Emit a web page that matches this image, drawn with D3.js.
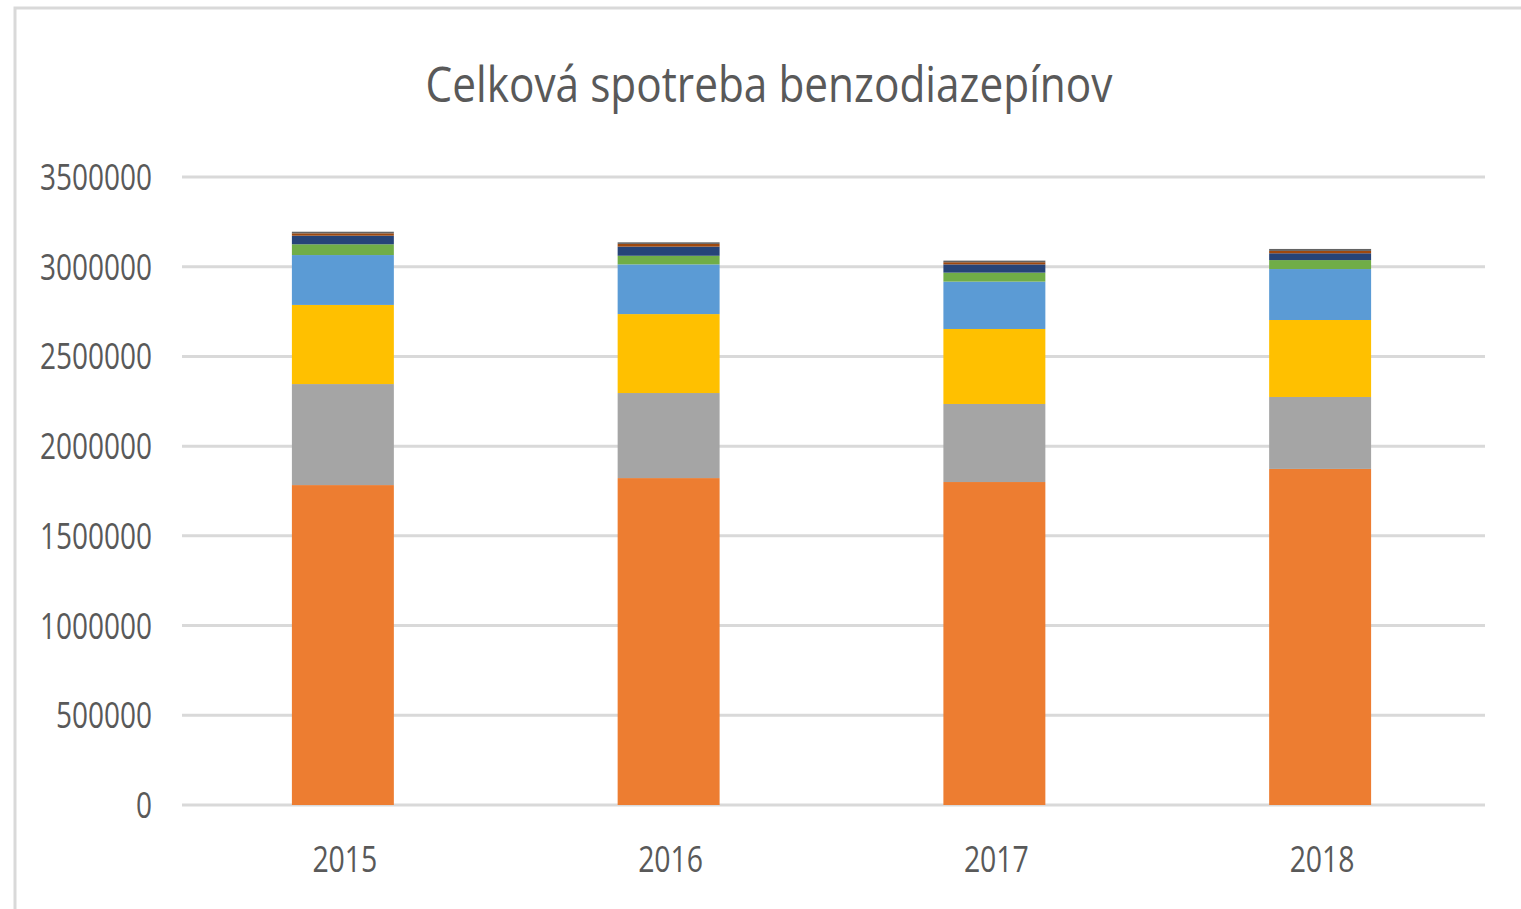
<!DOCTYPE html>
<html lang="sk">
<head>
<meta charset="utf-8">
<title>Celková spotreba benzodiazepínov</title>
<script src="https://cdn.jsdelivr.net/npm/d3@7"></script>
<style>
    body {
        margin: 0;
        background: #fff;
        font-family: "Open Sans", "Liberation Sans", sans-serif;
    }
    svg { display: block; }
</style>
</head>
<body>
<script>

// data
var years = ["2015", "2016", "2017", "2018"];
var seriesKeys = ["s1", "s2", "s3", "s4", "s5", "s6", "s7", "s8"];
var seriesColors = ["#ED7D31", "#A5A5A5", "#FFC000", "#5B9BD5", "#70AD47", "#264478", "#9E480E", "#636363"];
var s1 = [1783000, 1822000, 1800000, 1873000];
var s2 = [563000, 474000, 435000, 401000];
var s3 = [441000, 440000, 418000, 429000];
var s4 = [278000, 277000, 264000, 284000];
var s5 = [60000, 48000, 50000, 50000];
var s6 = [48000, 51000, 46000, 38000];
var s7 = [13000, 15000, 12000, 13000];
var s8 = [9000, 9000, 9000, 11000];
var yTicks = [0, 500000, 1000000, 1500000, 2000000, 2500000, 3000000, 3500000];

var allSeries = [s1, s2, s3, s4, s5, s6, s7, s8];
var rows = years.map(function(y, i) {
    var r = {year: y};
    seriesKeys.forEach(function(k, j) { r[k] = allSeries[j][i]; });
    return r;
});

var width = 1521, height = 909;
var margin = {left: 182, right: 36, top: 177, bottom: 104};

var svg = d3.select("body").append("svg")
    .attr("width", width)
    .attr("height", height);

// chart frame
svg.append("rect")
    .attr("x", 15).attr("y", 8)
    .attr("width", width + 20).attr("height", height + 20)
    .attr("fill", "none")
    .attr("stroke", "#d9d9d9")
    .attr("stroke-width", 3);

var x = d3.scaleBand()
    .domain(years)
    .range([margin.left - 2, width - margin.right - 2])
    .paddingInner(0.687)
    .paddingOuter(0.3435);

var y = d3.scaleLinear()
    .domain([0, 3500000])
    .range([height - margin.bottom, margin.top]);

// gridlines
svg.append("g").selectAll("line")
    .data(yTicks)
    .enter().append("line")
    .attr("x1", margin.left)
    .attr("x2", width - margin.right)
    .attr("y1", function(d) { return y(d); })
    .attr("y2", function(d) { return y(d); })
    .attr("stroke", "#d9d9d9")
    .attr("stroke-width", 3);

// y labels
svg.append("g").selectAll("text")
    .data(yTicks)
    .enter().append("text")
    .attr("x", 152)
    .attr("y", function(d) { return y(d) + 13; })
    .attr("text-anchor", "end")
    .attr("font-size", 36)
    .attr("fill", "#595959")
    .attr("textLength", function(d) { return String(d).length * 16; })
    .attr("lengthAdjust", "spacingAndGlyphs")
    .text(function(d) { return d; });

// stacked bars
var stack = d3.stack().keys(seriesKeys);
var layers = stack(rows);

svg.append("g").selectAll("g")
    .data(layers)
    .enter().append("g")
    .attr("fill", function(d, i) { return seriesColors[i]; })
    .selectAll("rect")
    .data(function(d) { return d; })
    .enter().append("rect")
    .attr("x", function(d) { return x(d.data.year); })
    .attr("width", x.bandwidth())
    .attr("y", function(d) { return y(d[1]); })
    .attr("height", function(d) { return y(d[0]) - y(d[1]); });

// x labels
svg.append("g").selectAll("text")
    .data(years)
    .enter().append("text")
    .attr("x", function(d) { return x(d) + x.bandwidth() / 2 + 2; })
    .attr("y", 872)
    .attr("text-anchor", "middle")
    .attr("font-size", 37)
    .attr("fill", "#595959")
    .attr("textLength", 65)
    .attr("lengthAdjust", "spacingAndGlyphs")
    .text(function(d) { return d; });

// title
svg.append("text")
    .attr("x", 769)
    .attr("y", 102)
    .attr("text-anchor", "middle")
    .attr("font-size", 49)
    .attr("fill", "#595959")
    .attr("textLength", 687)
    .attr("lengthAdjust", "spacingAndGlyphs")
    .text("Celková spotreba benzodiazepínov");

</script>
</body>
</html>
